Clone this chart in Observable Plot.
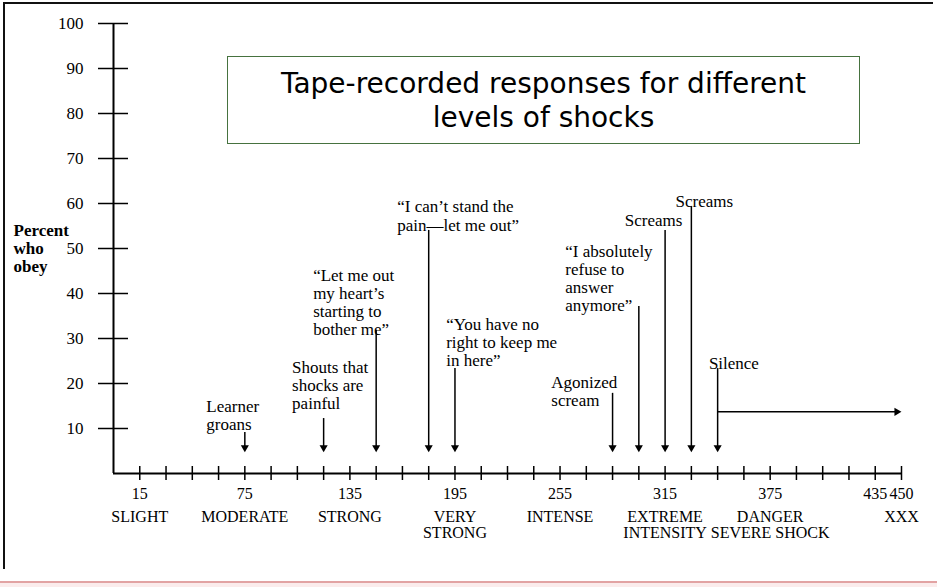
<!DOCTYPE html>
<html>
<head>
<meta charset="utf-8">
<script src="https://cdn.jsdelivr.net/npm/d3@7"></script>
<script src="https://cdn.jsdelivr.net/npm/@observablehq/plot@0.6"></script>
<style>
  html, body { margin: 0; padding: 0; background: #fff; }
  #page { position: relative; width: 937px; height: 587px; overflow: hidden; background: #fff; }
  #frame { position: absolute; left: 3px; top: 2px; width: 928px; height: 565px;
           border-top: 2px solid #111; border-left: 2px solid #111; }
  #pink { position: absolute; left: 0; top: 581px; width: 937px; height: 2px; background: #e2a3a3; }
  #pink2 { position: absolute; left: 0; top: 583px; width: 937px; height: 4px; background: #fbecec; }
  #chart { position: absolute; left: 0; top: 0; }
  #title { position: absolute; left: 227px; top: 56px; width: 633px; height: 88px; box-sizing: border-box;
           border: 1px solid #46723f; background: #fff; font-family: "DejaVu Sans", sans-serif;
           font-size: 28px; line-height: 34px; text-align: center; padding-top: 10px; color: #000; }
</style>
</head>
<body>
<div id="page">
  <div id="frame"></div>
  <div id="chart"></div>
  <div id="title">Tape-recorded responses for different<br>levels of shocks</div>
  <div id="pink"></div>
  <div id="pink2"></div>
</div>
<script>
// Shock levels (volts) marked on the x axis
const voltTicks = [15, 30, 45, 60, 75, 90, 105, 120, 135, 150, 165, 180, 195, 210, 225,
                   240, 255, 270, 285, 300, 315, 330, 345, 360, 375, 390, 405, 420, 435, 450];
const voltLabels = [15, 75, 135, 195, 255, 315, 375, 435, 450];
const categoryVolts = [15, 75, 135, 195, 255, 315, 375, 450];
const categoryNames = ["SLIGHT", "MODERATE", "STRONG", "VERY\nSTRONG", "INTENSE",
                       "EXTREME\nINTENSITY", "DANGER\nSEVERE SHOCK", "XXX"];
// Percent axis ticks
const percentTicks = [10, 20, 30, 40, 50, 60, 70, 80, 90, 100];

// Tape-recorded responses: voltage, arrow top (percent), label anchor (volts, percent)
const responseVolts = [75, 120, 150, 180, 195, 285, 300, 315, 330, 345];
const responseTexts = ["Learner\ngroans", "Shouts that\nshocks are\npainful",
  "“Let me out\nmy heart’s\nstarting to\nbother me”", "“I can’t stand the\npain—let me out”",
  "“You have no\nright to keep me\nin here”", "Agonized\nscream",
  "“I absolutely\nrefuse to\nanswer\nanymore”", "Screams", "Screams", "Silence"];
const arrowTops = [8.0, 11.1, 30.7, 52.9, 22.2, 16.7, 36.0, 52.9, 58.2, 22.2];
const labelVolts = [53, 102, 114, 162, 190, 250, 258, 292, 321, 340];
const labelPercents = [9.6, 14.4, 30.7, 54.0, 23.8, 15.1, 36.2, 55.1, 59.3, 23.3];
const arrowTip = 4.7;
// Continuing silence after the last response
const silenceFrom = 345, silenceTo = 450, silenceLevel = 13.7;

const idx = responseVolts.map((d, i) => i);
const serif = "'Liberation Serif', 'Times New Roman', serif";

const chart = Plot.plot({
  width: 937,
  height: 587,
  marginLeft: 113,
  marginRight: 36,
  marginTop: 23,
  marginBottom: 114,
  x: {domain: [0, 450], axis: null},
  y: {domain: [0, 100], axis: null},
  style: {fontFamily: serif, fontSize: "17px", color: "#000", background: "transparent", overflow: "visible"},
  marks: [
    // axis lines
    Plot.ruleX([0], {y1: 0, y2: 100, stroke: "#000", strokeWidth: 2}),
    Plot.ruleY([0], {x1: 0, x2: 450, stroke: "#000", strokeWidth: 2}),
    // y ticks crossing the axis
    Plot.ruleY(percentTicks, {y: d => d, x1: 0, x2: 0, insetLeft: -15, insetRight: -15, stroke: "#000", strokeWidth: 1.5}),
    Plot.text(percentTicks, {y: d => d, text: d => String(d), frameAnchor: "left", dx: -30, textAnchor: "end", fontSize: 17}),
    // x ticks crossing the axis
    Plot.ruleX(voltTicks, {x: d => d, y1: 0, y2: 0, insetTop: -7, insetBottom: -7, stroke: "#000", strokeWidth: 1.5}),
    Plot.text(voltLabels, {x: d => d, text: d => String(d), frameAnchor: "bottom", dy: 25, fontSize: 16}),
    Plot.text(categoryVolts, {x: d => d, text: (d, i) => categoryNames[i], frameAnchor: "bottom",
      lineAnchor: "top", dy: 37.5, lineHeight: 1.0, fontSize: 16}),
    // y axis title
    Plot.text(["Percent\nwho\nobey"], {frameAnchor: "left", y: 50, dx: -100, textAnchor: "start",
      fontWeight: "bold", fontSize: 17, lineHeight: 1.06}),
    // response arrows
    Plot.ruleX(idx, {x: i => responseVolts[i], y1: i => arrowTops[i], y2: arrowTip, dy: -5, stroke: "#000", strokeWidth: 1.5}),
    Plot.dot(idx, {x: i => responseVolts[i], y: arrowTip, dy: -4.7, symbol: "triangle", rotate: 180, r: 3, fill: "#000", stroke: "none"}),
    // silence continues
    Plot.ruleY([silenceLevel], {y: d => d, x1: silenceFrom, x2: silenceTo, insetRight: 5, stroke: "#000", strokeWidth: 1.5}),
    Plot.dot([silenceLevel], {x: silenceTo, y: d => d, dx: -4.7, symbol: "triangle", rotate: 90, r: 3, fill: "#000", stroke: "none"}),
    // response labels
    Plot.text(idx, {x: i => labelVolts[i], y: i => labelPercents[i], text: i => responseTexts[i],
      textAnchor: "start", lineAnchor: "bottom", lineHeight: 1.06, fontSize: 17})
  ]
});
document.getElementById("chart").appendChild(chart);
</script>
</body>
</html>
